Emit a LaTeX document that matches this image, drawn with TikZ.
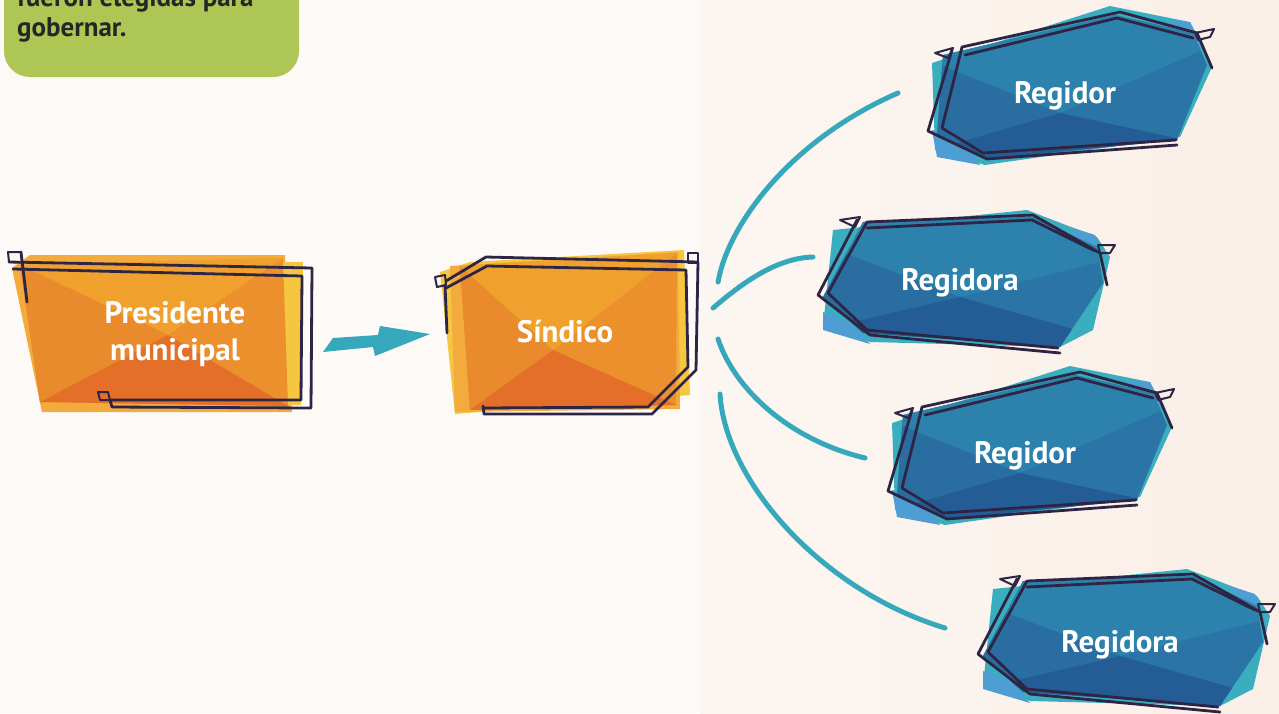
\documentclass[tikz,border=0pt]{standalone}
\usepackage{fontspec}
\setmainfont{PT Sans}
\definecolor{bgL}{HTML}{FDF9F7}
\definecolor{bgM}{HTML}{FCF6F2}
\definecolor{bgR}{HTML}{FAEFE7}
\definecolor{greenc}{HTML}{AEC654}
\definecolor{notetext}{HTML}{262626}
\definecolor{outline}{HTML}{2E2545}
\definecolor{tealc}{HTML}{36A8BC}
\definecolor{tealbk}{HTML}{3AADBF}
\definecolor{lblue}{HTML}{4E9ED3}
\definecolor{btop}{HTML}{2C82AC}
\definecolor{bleft}{HTML}{2A6EA1}
\definecolor{bbot}{HTML}{245D95}
\definecolor{bmid}{HTML}{2A74A6}
\definecolor{ortop}{HTML}{F0A12D}
\definecolor{orleft}{HTML}{E98A2C}
\definecolor{orbot}{HTML}{E36F29}
\definecolor{orright}{HTML}{EC8F2D}
\definecolor{orlight}{HTML}{F3AB3E}
\definecolor{oryellow}{HTML}{F6C640}
\tikzset{
  outl/.style={draw=outline, line width=2.8pt, line join=round, line cap=round},
  flagline/.style={draw=outline, line width=2pt, line join=round},
  curve/.style={draw=tealc, line width=5pt, line cap=round},
  lbl/.style={text=white, font=\bfseries\fontsize{31}{37}\selectfont, align=center, inner sep=0pt},
  notefont/.style={text=notetext, font=\bfseries\fontsize{27}{30}\selectfont, inner sep=0pt},
  regidorbox/.pic={
    \fill[tealbk] (-133,-32) -- (45,-89) -- (125,-73) -- (147,-28) -- (115,42) -- (-80,70) -- (-130,55) -- cycle;
    \fill[lblue] (-133,35) -- (-105,40) -- (-85,70) -- (-128,62) -- cycle;
    \fill[lblue] (100,-73) -- (125,-73) -- (140,-45) -- (110,-55) -- cycle;
    \begin{scope}
      \clip (-122,-40) -- (50,-80) -- (128,-62) -- (142,-30) -- (112,45) -- (-78,64) -- (-128,40) -- cycle;
      \fill[bmid] (-150,-100) rectangle (160,80);
      \fill[btop] (-150,-40) -- (-5,18) -- (160,-55) -- (160,-100) -- (-150,-100) -- cycle;
      \fill[bleft] (-150,-40) -- (-5,18) -- (-150,60) -- cycle;
      \fill[bbot] (-150,60) -- (-5,18) -- (120,45) -- (160,80) -- (-150,80) -- cycle;
    \end{scope}
    \draw[outl] (147,-27) -- (132,-62) -- (55,-83) -- (-103,-48) -- (-123,33) -- (-82,58) -- (111,45);
    \draw[outl] (128,-57) -- (52,-77) -- (-100,-40);
    \draw[outl] (-113,-45) -- (-137,36) -- (-78,64) -- (112,50);
    \draw[flagline] (-130,-42) -- (-112,-47) -- (-117,-37) -- cycle;
    \draw[flagline] (130,-62) -- (149,-66) -- (145,-58) -- (133,-55) -- cycle;
  },
  regidorabox/.pic={
    \fill[tealbk] (-127,-52) -- (67,-72) -- (137,-45) -- (150,-25) -- (133,48) -- (100,65) -- (-90,60) -- (-137,45) -- cycle;
    \fill[lblue] (110,-55) -- (135,-47) -- (140,-35) -- (120,-42) -- cycle;
    \fill[lblue] (-137,30) -- (-110,40) -- (-90,62) -- (-137,48) -- cycle;
    \begin{scope}
      \clip (-97,-60) -- (73,-65) -- (137,-35) -- (143,1) -- (100,65) -- (-97,51) -- (-137,15) -- cycle;
      \fill[bmid] (-150,-80) rectangle (160,80);
      \fill[btop] (-150,-42) -- (0,15) -- (160,-25) -- (160,-80) -- (-150,-80) -- cycle;
      \fill[bleft] (-150,-42) -- (0,15) -- (-150,50) -- cycle;
      \fill[bbot] (-150,50) -- (0,15) -- (127,51) -- (160,80) -- (-150,80) -- cycle;
    \end{scope}
    \draw[outl] (147,3) -- (140,-29) -- (73,-67) -- (-93,-60) -- (-132,11) -- (-93,48) -- (98,66);
    \draw[outl] (-93,-54) -- (72,-62) -- (135,-31);
    \draw[outl] (-103,-62) -- (-142,13) -- (-90,53) -- (100,71);
    \draw[flagline] (-120,-62) -- (-100,-65) -- (-105,-55) -- cycle;
    \draw[flagline] (138,-37) -- (155,-37) -- (150,-29) -- (140,-29) -- cycle;
  }
}
\begin{document}
\begin{tikzpicture}[x=1pt,y=-1pt]
\useasboundingbox (0,0) rectangle (1279,713);
\clip (0,0) rectangle (1279,713);
% background
\fill[bgL] (0,0) rectangle (1279,713);
\shade[left color=bgM, right color=bgR] (700,0) rectangle (1279,713);

% green note
\fill[greenc, rounded corners=26pt] (4,-40) rectangle (299,77);
\node[notefont, anchor=base west] (note1) at (17,6) {fueron elegidas para};
\node[notefont, anchor=base west] (note2) at (17,36) {gobernar.};

% Presidente municipal box
\fill[orlight] (12,268) -- (30,255) -- (285,255) -- (292,412) -- (42,412) -- cycle;
\fill[oryellow] (282,262) -- (303,262) -- (301,405) -- (282,405) -- cycle;
\begin{scope}
  \clip (20,265) -- (283,258) -- (288,406) -- (40,402) -- cycle;
  \fill[orright] (0,240) rectangle (310,420);
  \fill[ortop] (0,250) -- (20,265) -- (168,335) -- (283,258) -- (300,240) -- (0,240) -- cycle;
  \fill[orleft] (20,265) -- (168,335) -- (40,402) -- (0,420) -- (0,250) -- cycle;
  \fill[orbot] (40,402) -- (168,335) -- (288,406) -- (300,420) -- (0,420) -- cycle;
\end{scope}
\draw[outl] (27,302) -- (21,252);
\draw[flagline] (8,252) -- (21,252) -- (22,262) -- (9,262) -- cycle;
\draw[outl] (9,262) -- (312,268) -- (311,408) -- (112,407) -- (110,400);
\draw[outl] (13,269) -- (302,276) -- (301,400) -- (110,400);
\draw[flagline] (98,392) -- (108,392) -- (110,400) -- (100,400) -- cycle;
\node[lbl] (pres) at (175,334) {Presidente\\municipal};

% arrow
\fill[tealc] (323,352) -- (333,338) -- (378,335) -- (380,326) -- (430,334) -- (375,356) -- (373,347) -- cycle;

% Sindico box
\fill[oryellow] (440,272) -- (470,262) -- (684,250) -- (690,395) -- (455,414) -- cycle;
\fill[orlight] (450,266) -- (678,252) -- (680,409) -- (455,412) -- cycle;
\begin{scope}
  \clip (460,266) -- (677,253) -- (676,405) -- (470,410) -- cycle;
  \fill[orright] (440,240) rectangle (700,420);
  \fill[ortop] (440,250) -- (460,266) -- (553,350) -- (677,253) -- (700,240) -- (440,240) -- cycle;
  \fill[orleft] (460,266) -- (553,350) -- (470,410) -- (440,420) -- (440,250) -- cycle;
  \fill[orbot] (470,410) -- (553,350) -- (676,405) -- (700,420) -- (440,420) -- cycle;
\end{scope}
\draw[flagline] (435,277) -- (445,275) -- (446,285) -- (437,287) -- cycle;
\draw[outl] (446,281) -- (486,257) -- (698,262) -- (696,370) -- (652,414) -- (484,414) -- (483,406);
\draw[flagline] (688,253) -- (698,253) -- (698,263) -- (688,263) -- cycle;
\draw[outl] (445,285) -- (447,333);
\draw[outl] (446,288) -- (487,266) -- (686,270) -- (688,367) -- (648,407) -- (483,408);
\node[lbl, anchor=base] (sind) at (565,342) {Síndico};

% regidores
\pic at (1065,95) {regidorbox};
\node[lbl, anchor=base] (r1) at (1065,103) {Regidor};
\pic at (960,282) {regidorabox};
\node[lbl, anchor=base] (r2) at (960,290) {Regidora};
\pic at (1025,455) {regidorbox};
\node[lbl, anchor=base] (r3) at (1025,463) {Regidor};
\pic at (1120,641) {regidorabox};
\node[lbl, anchor=base] (r4) at (1120,652) {Regidora};

% connectors
\coordinate (c1a) at (718,282); \coordinate (c1b) at (898,93);
\coordinate (c2a) at (713,308); \coordinate (c2b) at (813,257);
\coordinate (c3a) at (718,339); \coordinate (c3b) at (865,458);
\coordinate (c4a) at (720,394); \coordinate (c4b) at (945,628);
\draw[curve] (c1a) .. controls (728,225) and (790,140) .. (c1b);
\draw[curve] (c2a) .. controls (740,285) and (775,258) .. (c2b);
\draw[curve] (c3a) .. controls (735,390) and (790,440) .. (c3b);
\draw[curve] (c4a) .. controls (725,480) and (820,590) .. (c4b);
\end{tikzpicture}
\end{document}
